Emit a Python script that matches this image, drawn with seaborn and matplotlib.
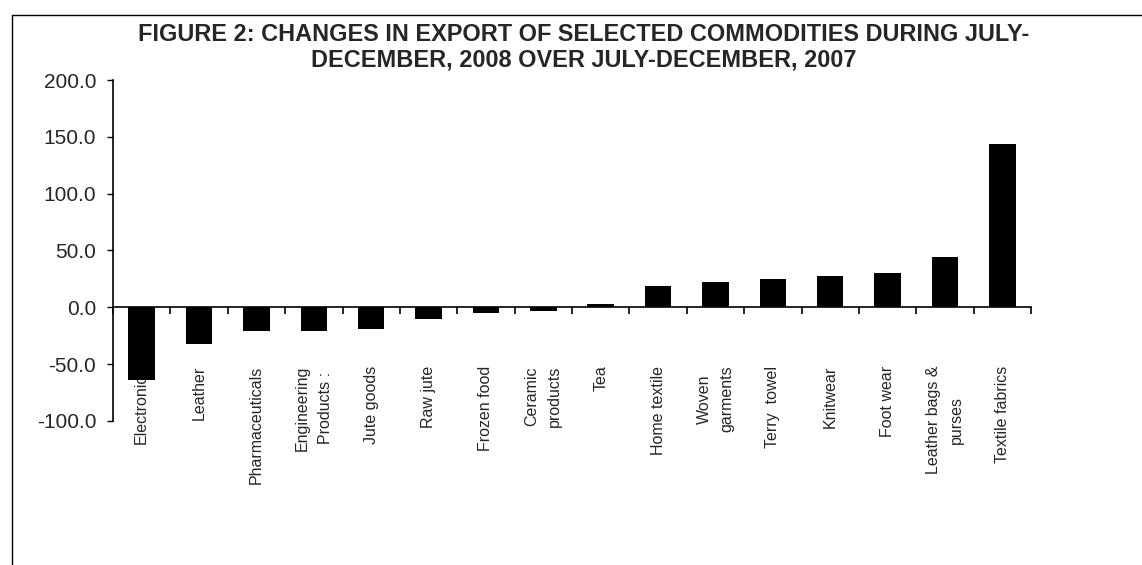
import numpy as np
import seaborn as sns
from matplotlib import pyplot as plt
from matplotlib.lines import Line2D

categories = ['Electronics', 'Leather', 'Pharmaceuticals', 'Engineering\nProducts :',
              'Jute goods', 'Raw jute', 'Frozen food', 'Ceramic\nproducts', 'Tea',
              'Home textile', 'Woven\ngarments', 'Terry  towel', 'Knitwear', 'Foot wear',
              'Leather bags &\npurses', 'Textile fabrics']
changes = [-64.0, -32.5, -21.0, -21.0, -19.0, -10.5, -5.0, -3.0, 2.5,
           19.0, 22.0, 24.5, 28.0, 30.0, 44.0, 144.0]
y_ticks = [-100, -50, 0, 50, 100, 150, 200]

sns.set_style('ticks')
plt.rcParams['font.family'] = ['Liberation Sans', 'DejaVu Sans']

fig = plt.figure(figsize=(11.42, 5.65), dpi=100)
ax = fig.add_axes([113 / 1142, 1 - 421 / 565, (1031 - 113) / 1142, (421 - 80) / 565])
ax.set_axisbelow(True)

sns.barplot(x=categories, y=changes, color='black', width=0.46, saturation=1,
            linewidth=0, ax=ax)

# axes look: y spine on left, x spine through zero
ax.set_ylim(-100, 200)
ax.set_xlim(-0.5, len(categories) - 0.5)
ax.set_yticks(y_ticks)
ax.set_yticklabels([f'{v:.1f}' for v in y_ticks], fontsize=15)
ax.tick_params(axis='y', length=4, width=1, pad=8, color='black', direction='out')
ax.spines['top'].set_visible(False)
ax.spines['right'].set_visible(False)
ax.spines['bottom'].set_position(('data', 0))
for s in ['left', 'bottom']:
    ax.spines[s].set_color('black')
    ax.spines[s].set_linewidth(1.2)

ax.set_xticks(np.arange(len(categories)))
ax.set_xticklabels(categories, rotation=90, fontsize=11.5, multialignment='center',
                   linespacing=1.65)
ax.tick_params(axis='x', which='major', length=0, pad=42)
ax.set_xticks(np.arange(-0.5, len(categories)), minor=True)
ax.tick_params(axis='x', which='minor', length=5, width=1.2, color='black', direction='out')
ax.set_xlabel('')
ax.set_ylabel('')

fig.text(0.511, 1 - 23 / 565,
         'FIGURE 2: CHANGES IN EXPORT OF SELECTED COMMODITIES DURING JULY-\n'
         'DECEMBER, 2008 OVER JULY-DECEMBER, 2007',
         ha='center', va='top', fontsize=16.9, fontweight='bold', linespacing=1.12)

# chart area border (clipped at right and bottom)
fig.add_artist(Line2D([12 / 1142, 1], [1 - 15 / 565, 1 - 15 / 565], color='black', lw=1,
                      transform=fig.transFigure))
fig.add_artist(Line2D([12 / 1142, 12 / 1142], [0, 1 - 15 / 565], color='black', lw=1,
                      transform=fig.transFigure))

fig.savefig('out.png', dpi=100)
